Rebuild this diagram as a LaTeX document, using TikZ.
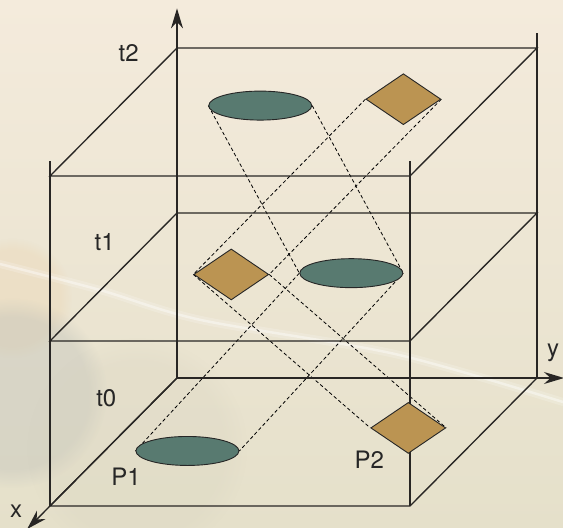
\documentclass[tikz,border=0pt]{standalone}
\usepackage{fontspec}
\setmainfont{TeX Gyre Heros}
\usepackage{xcolor}
\usepackage{tikz}
\usetikzlibrary{arrows.meta,shapes,fadings}
\definecolor{sand}{RGB}{244,235,220}
\definecolor{moss}{RGB}{229,224,202}
\definecolor{haze}{RGB}{192,194,186}
\definecolor{peach}{RGB}{236,210,172}
\definecolor{ovalgreen}{RGB}{88,122,112}
\definecolor{tilebrown}{RGB}{187,148,82}
\definecolor{framegrey}{RGB}{40,38,36}
\pgfdeclarelayer{under}
\pgfsetlayers{under,main}

\begin{document}
\begin{tikzpicture}[x={(-127pt,-128pt)},y={(360pt,0pt)},z={(0pt,165pt)},>={Stealth[length=20pt,width=12pt]},
frame/.style={framegrey,line width=1.35pt},
trace/.style={black,line width=0.8pt,dash pattern=on 3.5pt off 2.5pt},
oval/.style={ellipse,draw=black!85,line width=0.9pt,fill=ovalgreen,minimum width=103pt,minimum height=29pt,inner sep=0pt},
tile/.style={diamond,draw=black!85,line width=0.9pt,fill=tilebrown,minimum width=75pt,minimum height=51pt,inner sep=0pt},
lbl/.style={black!85,font=\fontsize{24}{28}\selectfont,inner sep=1pt}]
\useasboundingbox(-177pt,-150pt)rectangle(386pt,378pt);
\begin{pgfonlayer}{under}
\shade[top color=sand,bottom color=moss](-177pt,-150pt)rectangle(386pt,378pt);
\fill[peach,opacity=0.3,path fading=circle with fuzzy edge 20 percent](-165pt,80pt)circle(60pt);
\fill[haze,opacity=0.4,path fading=circle with fuzzy edge 20 percent](-165pt,-15pt)circle(95pt);
\fill[moss!85!gray,opacity=0.25,path fading=circle with fuzzy edge 20 percent](-40pt,-70pt)circle(110pt);
\draw[white,line width=8pt,opacity=0.18,line cap=round]plot[smooth]coordinates{(-177pt,114pt)(-77pt,88pt)(24pt,58pt)(218pt,24pt)(386pt,-24pt)};
\draw[white,line width=2.5pt,opacity=0.4,line cap=round]plot[smooth]coordinates{(-177pt,114pt)(-77pt,88pt)(24pt,58pt)(218pt,24pt)(386pt,-24pt)};
\end{pgfonlayer}
\draw[frame](0,0,0)--(0,1,0)--(1,1,0)--(1,0,0)--cycle;
\draw[frame](0,0,1)--(0,1,1)--(1,1,1)--(1,0,1)--cycle;
\draw[frame](0,0,2)--(0,1,2)--(1,1,2)--(1,0,2)--cycle;
\draw[frame](0,1,0)--(0,1,2.09)(1,0,0)--(1,0,2.09)(1,1,0)--(1,1,2.09);
\coordinate(O)at(0,0,0);
\coordinate(xtip)at(1.18,0,0);
\coordinate(ytip)at(0,1.075,0);
\coordinate(ztip)at(0,0,2.24);
\draw[frame,->](O)--(xtip);
\draw[frame,->](O)--(ytip);
\draw[frame,->](O)--(ztip);
\node[lbl](lx)at(1.04,-0.08,0){x};
\node[lbl](ly)at(0,1.045,0.15){y};
\node[lbl](lt0)at(0.16,-0.14,0){t0};
\node[lbl](lt1)at(0.23,-0.12,1){t1};
\node[lbl](lt2)at(0.04,-0.12,2){t2};
\node[oval](ovl0)at(0.57,0.23,0){};
\node[oval](ovl1)at(0.47,0.65,1){};
\node[oval](ovl2)at(0.45,0.39,2){};
\node[tile](dia0)at(0.39,0.78,0){};
\node[tile](dia1)at(0.48,0.32,1){};
\node[tile](dia2)at(0.4,0.77,2){};
\node[lbl](lp1)at(0.77,0.13,0){P1};
\node[lbl](lp2)at(0.64,0.76,0){P2};
\begin{pgfonlayer}{under}
\draw[trace](ovl2.west)--(ovl1.west)(ovl2.east)--(ovl1.east)(ovl1.west)--(ovl0.west)(ovl1.east)--(ovl0.east);
\draw[trace](dia2.west)--(dia1.west)(dia2.east)--(dia1.east)(dia1.west)--(dia0.west)(dia1.east)--(dia0.east);
\end{pgfonlayer}
\end{tikzpicture}
\end{document}
